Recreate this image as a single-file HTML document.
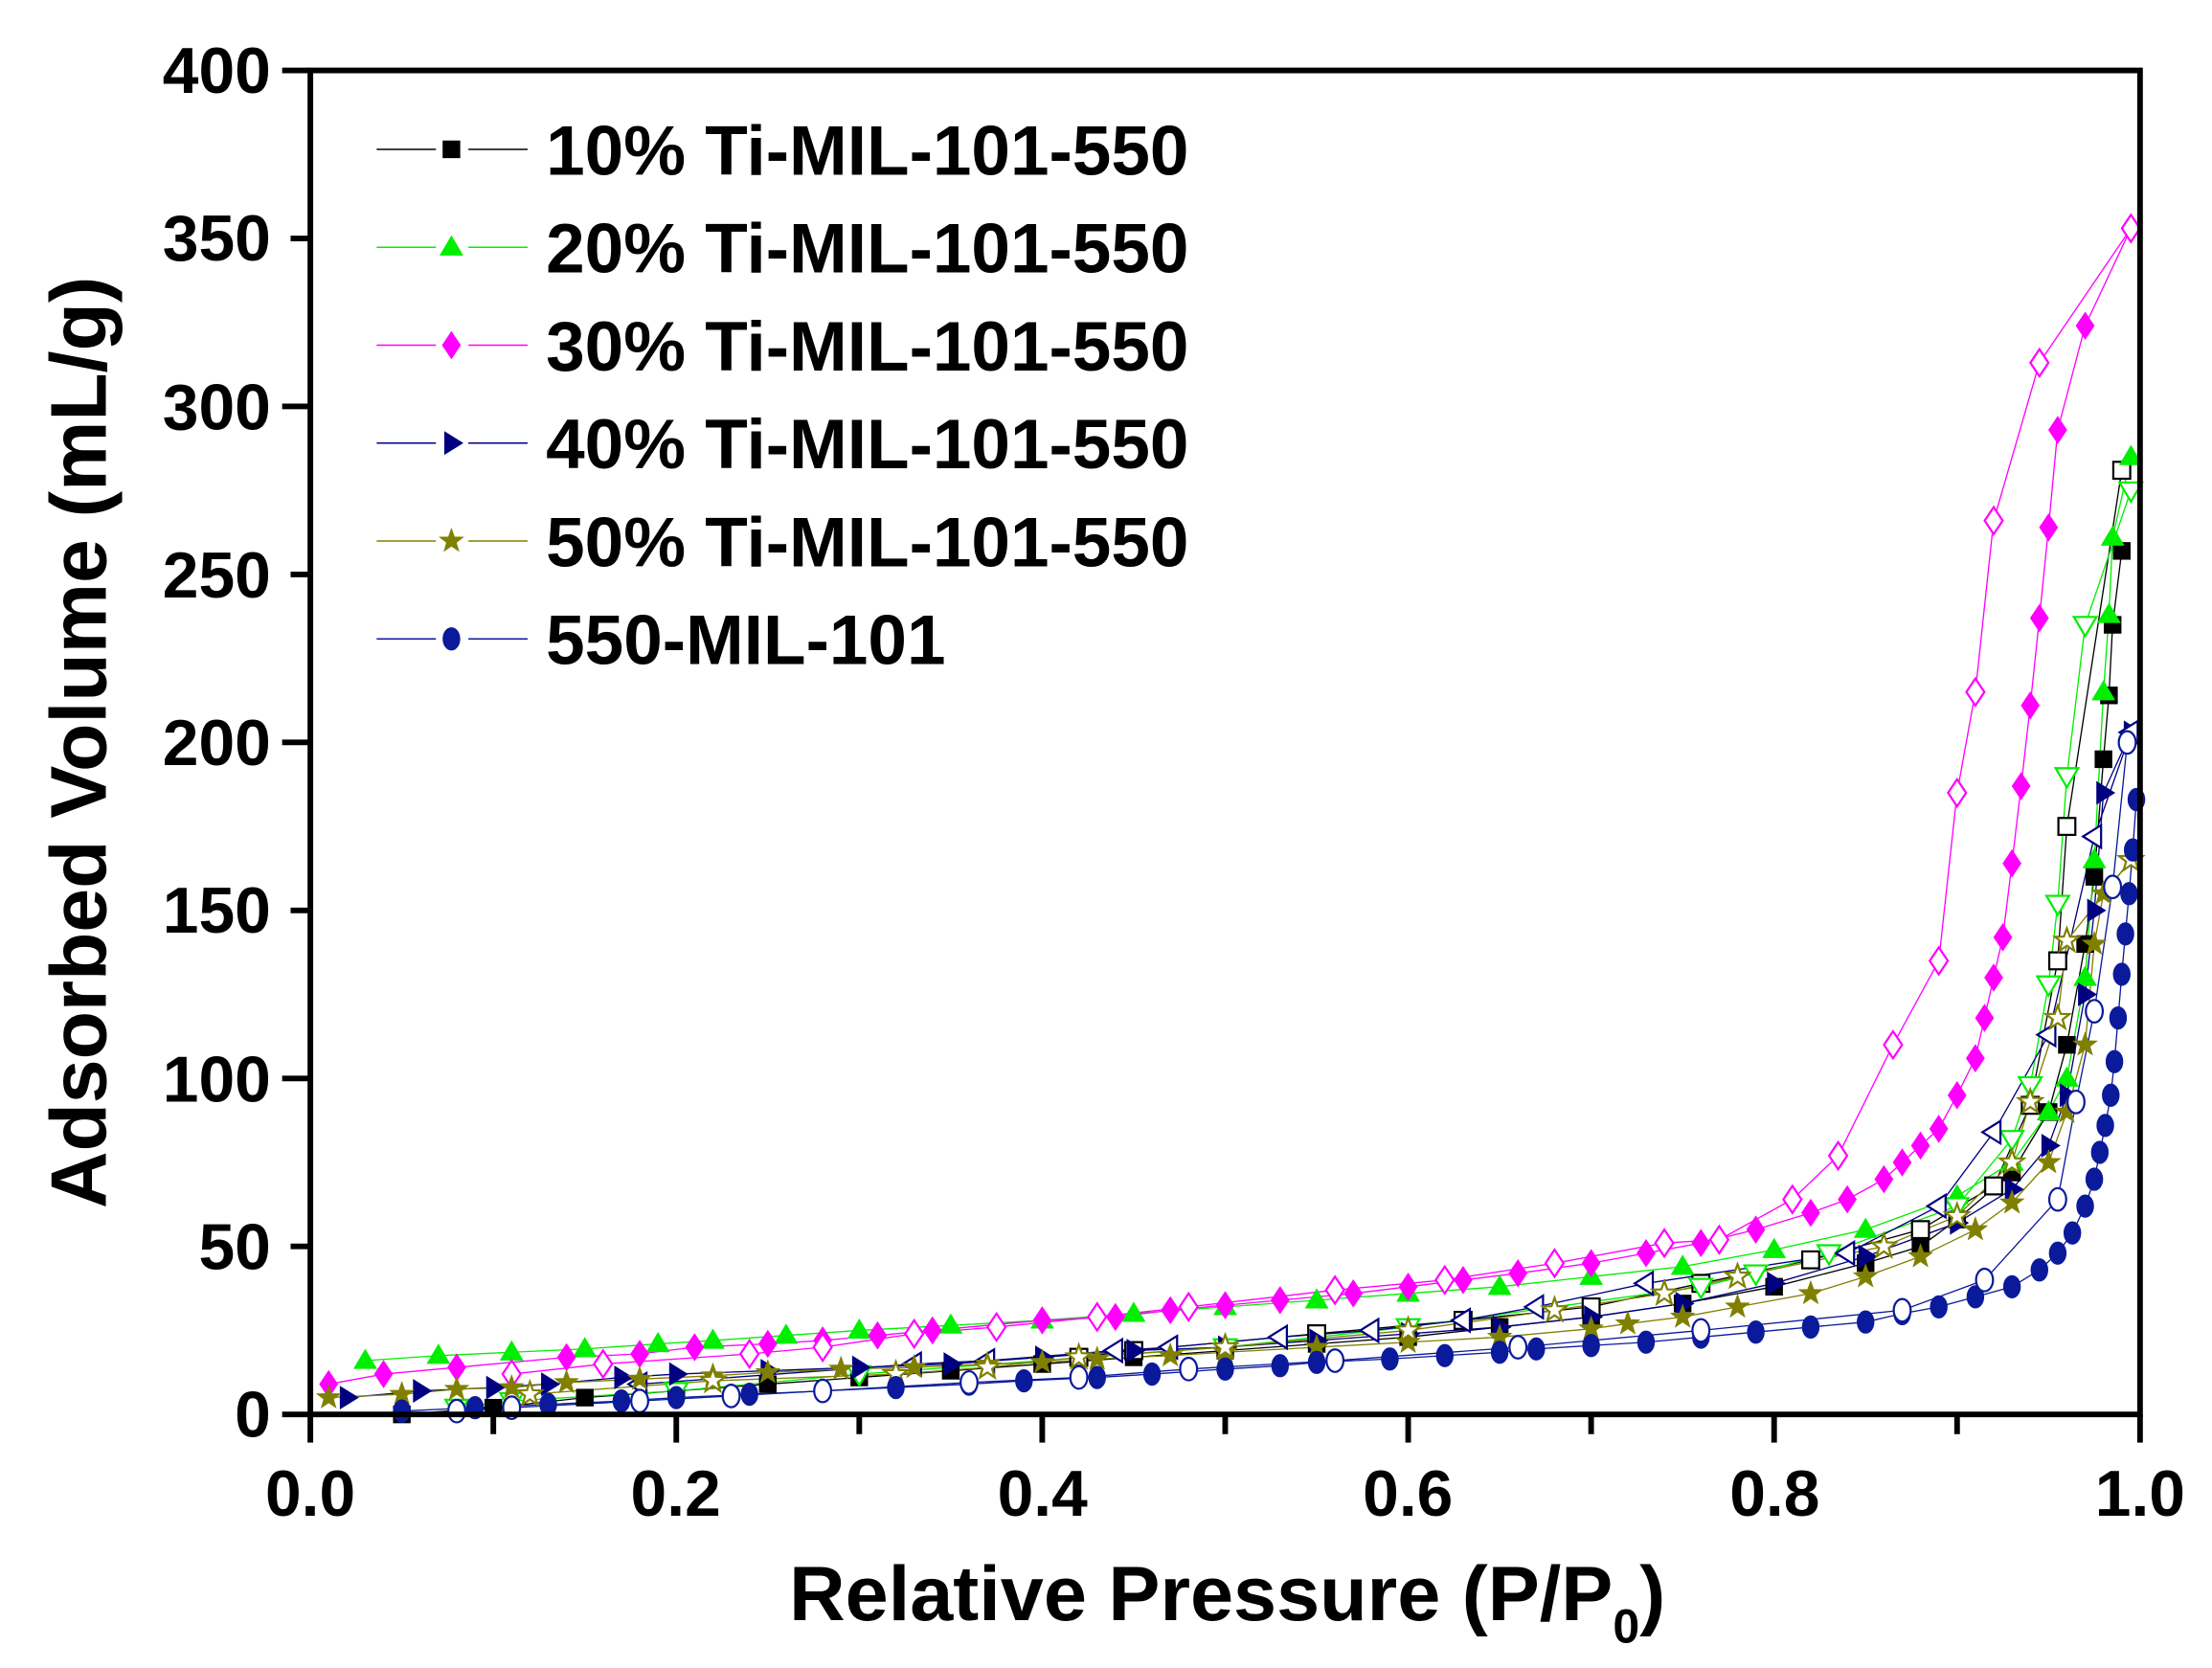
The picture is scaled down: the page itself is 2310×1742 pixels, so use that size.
<!DOCTYPE html>
<html><head><meta charset="utf-8"><style>
html,body{margin:0;padding:0;background:#fff}
svg{display:block}
text{font-family:"Liberation Sans",Arial,sans-serif;font-weight:bold;fill:#000}
</style></head><body>
<svg id="s" width="2310" height="1742" viewBox="0 0 1568 1184" preserveAspectRatio="none" xmlns="http://www.w3.org/2000/svg">
<g id="data"></g>
<g stroke="#000" fill="none">
<rect x="220" y="50" width="1297" height="954" stroke-width="4"/>
</g>
<g id="ticks" stroke="#000" stroke-width="4"></g>
<g font-size="46" text-anchor="end">
<text x="192" y="1020">0</text><text x="192" y="901">50</text><text x="192" y="782">100</text>
<text x="192" y="662">150</text><text x="192" y="543">200</text><text x="192" y="424">250</text>
<text x="192" y="305">300</text><text x="192" y="185">350</text><text x="192" y="66">400</text>
</g>
<g font-size="46" text-anchor="middle">
<text x="220" y="1076">0.0</text><text x="479" y="1076">0.2</text><text x="739" y="1076">0.4</text>
<text x="998" y="1076">0.6</text><text x="1258" y="1076">0.8</text><text x="1517" y="1076">1.0</text>
</g>
<text x="870" y="1150" font-size="55" text-anchor="middle">Relative Pressure (P/P<tspan font-size="34" dy="16">0</tspan><tspan dy="-16">)</tspan></text>
<text transform="translate(75,527) rotate(-90)" font-size="56" text-anchor="middle">Adsorbed Volume (mL/g)</text>
<g id="legend" font-size="49.5"></g>
</svg>
<script>
var NS="http://www.w3.org/2000/svg";
function X(p){return 220+p*1297}function Y(v){return 1004-v*2.385}
function el(t,a,par){var e=document.createElementNS(NS,t);for(var k in a)e.setAttribute(k,a[k]);par.appendChild(e);return e}
var tk=document.getElementById('ticks');
for(var i=0;i<=8;i++){var y=1004-i*119.25;el('line',{x1:(i%2?206:200),x2:220,y1:y,y2:y},tk)}
for(var i=0;i<=10;i++){var x=220+i*129.7;el('line',{x1:x,x2:x,y1:1004,y2:(i%2?1018:1024)},tk)}
function P(s){return s.trim().split(/\s*,\s*/).map(function(t){var a=t.split(':');return [+a[0],+a[1]]})}
var S=[
{c:'#000',m:'sq',a:P("0.05:0,0.1:2,0.15:5,0.2:7,0.25:9,0.3:11,0.35:13,0.4:15,0.45:17,0.5:19,0.55:21,0.6:23,0.65:26,0.7:29,0.75:33,0.8:38,0.85:45,0.88:50,0.9:58,0.93:72,0.95:90,0.96:110,0.97:140,0.975:160,0.98:195,0.983:214,0.985:235,0.99:257"),
 d:P("0.99:281,0.96:175,0.955:135,0.94:92,0.92:68,0.88:55,0.82:46,0.76:39,0.7:32,0.63:28,0.55:24,0.45:19,0.42:17")},
{c:'#00ee00',m:'tri',a:P("0.03:16,0.07:17.5,0.11:18.5,0.15:19.5,0.19:21,0.22:22,0.26:23.5,0.3:25,0.35:26.5,0.4:28,0.45:30,0.5:32,0.55:34,0.6:36,0.65:38,0.7:41,0.75:44,0.8:49,0.85:55,0.9:65,0.93:75,0.95:90,0.96:100,0.97:130,0.975:165,0.98:215,0.983:238,0.985:261,0.995:285"),
 d:P("0.995:275,0.97:235,0.96:190,0.955:152,0.95:128,0.94:98,0.93:82,0.9:62,0.83:48,0.79:42,0.76:38,0.6:26,0.5:20,0.3:12,0.2:7,0.11:4,0.08:2")},
{c:'#ff00ff',m:'dia',a:P("0.01:9,0.04:12,0.08:14,0.14:17,0.18:18,0.21:20,0.25:21,0.28:22,0.31:23.5,0.34:25,0.4:28,0.44:29,0.47:31,0.5:32.5,0.53:34,0.57:36,0.6:38,0.63:40,0.66:42,0.7:45,0.73:48,0.76:51,0.79:55,0.82:60,0.84:64,0.86:70,0.87:75,0.88:80,0.89:85,0.9:95,0.91:106,0.915:118,0.92:130,0.925:142,0.93:164,0.935:187,0.94:211,0.945:237,0.95:264,0.955:293,0.97:324,0.995:353"),
 d:P("0.995:353,0.945:313,0.92:266,0.91:215,0.9:185,0.89:135,0.865:110,0.835:77,0.81:64,0.77:52,0.74:51,0.68:45,0.62:40,0.56:37,0.48:32,0.43:29,0.375:26,0.33:24,0.28:20,0.24:18,0.16:15,0.11:12")},
{c:'#000080',m:'rt',a:P("0.02:5,0.06:7,0.1:8,0.13:9,0.17:11,0.2:12,0.25:13,0.3:14,0.35:15,0.4:17,0.45:19,0.5:20,0.55:22,0.6:24,0.65:26,0.7:29,0.75:33,0.8:39,0.85:47,0.9:57,0.93:67,0.95:80,0.96:95,0.97:125,0.975:150,0.98:185,0.995:203"),
 d:P("0.995:203,0.975:172,0.95:113,0.92:84,0.89:62,0.84:48,0.73:39,0.67:32,0.63:28,0.58:25,0.53:23,0.47:20,0.44:19,0.37:16,0.33:15,0.18:9")},
{c:'#808000',m:'star',a:P("0.01:5,0.05:6,0.08:7.5,0.11:8,0.14:9.5,0.18:10.5,0.22:11.5,0.25:12.5,0.29:13.5,0.33:14,0.37:15,0.4:15.5,0.43:16.5,0.47:17.5,0.5:18.5,0.55:20,0.6:21.5,0.65:23,0.7:25.5,0.72:27,0.75:29,0.78:32,0.82:36,0.85:41,0.88:47,0.91:55,0.93:63,0.95:75,0.96:90,0.97:110,0.975:140,0.98:155,0.995:165"),
 d:P("0.995:165,0.96:141,0.955:118,0.94:93,0.93:75,0.9:59,0.86:50,0.78:41,0.74:36,0.68:31,0.6:25,0.5:20,0.42:17,0.37:14,0.32:12,0.22:10,0.12:6")},
{c:'#0a1a9a',m:'cir',a:P("0.05:1,0.09:2,0.13:3,0.17:4,0.2:5,0.24:6,0.28:7,0.32:8,0.36:9,0.39:10,0.43:11,0.46:12,0.5:13.5,0.53:14.5,0.55:15.5,0.59:16.5,0.62:17.5,0.65:18.5,0.67:19.5,0.7:20.5,0.73:21.5,0.76:23,0.79:24.5,0.82:26,0.85:27.5,0.87:30,0.89:32,0.91:35,0.93:38,0.945:43,0.955:48,0.963:54,0.97:62,0.975:70,0.978:78,0.981:86,0.984:95,0.986:105,0.988:118,0.99:131,0.992:143,0.994:155,0.996:168,0.998:183"),
 d:P("0.993:200,0.985:157,0.975:120,0.965:93,0.955:64,0.915:40,0.87:31,0.76:25,0.66:20,0.56:16,0.48:13.5,0.42:11,0.36:9.5,0.28:7,0.23:5.5,0.18:4,0.11:2,0.08:1")}
];
function mark(g,m,x,y,c,open){
 var a={fill:open?'#fff':c,stroke:c,'stroke-width':open?1.5:0.5}, r=8;
 if(m=='sq'){a.x=x-6;a.y=y-6;a.width=12;a.height=12;el('rect',a,g)}
 else if(m=='cir'){a.cx=x;a.cy=y;a.rx=6;a.ry=8;el('ellipse',a,g)}
 else{var pts;
  if(m=='tri')pts=[[x,y-r],[x+r,y+r*0.7],[x-r,y+r*0.7]];
  if(open&&m=='tri')pts=[[x,y+r],[x+r,y-r*0.7],[x-r,y-r*0.7]];
  if(m=='dia')pts=[[x,y-r*1.2],[x+r*0.8,y],[x,y+r*1.2],[x-r*0.8,y]];
  if(m=='rt')pts=[[x+r,y],[x-r*0.6,y-r],[x-r*0.6,y+r]];
  if(open&&m=='rt')pts=[[x-r,y],[x+r*0.6,y-r],[x+r*0.6,y+r]];
  if(m=='star'){pts=[];for(var k=0;k<10;k++){var rr=k%2?r*0.45:r*1.1,an=-Math.PI/2+k*Math.PI/5;pts.push([x+rr*Math.cos(an),y+rr*Math.sin(an)])}}
  a.points=pts.map(function(p){return p.join(',')}).join(' ');el('polygon',a,g)}
}
var g=document.getElementById('data');
S.forEach(function(s){
 [s.a,s.d].forEach(function(arr){el('polyline',{points:arr.map(function(p){return X(p[0])+','+Y(p[1])}).join(' '),fill:'none',stroke:s.c,'stroke-width':0.9},g)});
});
S.forEach(function(s){
 s.a.forEach(function(p){mark(g,s.m,X(p[0]),Y(p[1]),s.c,false)});
 s.d.forEach(function(p){mark(g,s.m,X(p[0]),Y(p[1]),s.c,true)});
});
var lg=document.getElementById('legend');
var names=['10% Ti-MIL-101-550','20% Ti-MIL-101-550','30% Ti-MIL-101-550','40% Ti-MIL-101-550','50% Ti-MIL-101-550','550-MIL-101'];
S.forEach(function(s,i){var y=106+i*69.5;
 el('line',{x1:267,x2:309,y1:y,y2:y,stroke:s.c,'stroke-width':1},lg);
 el('line',{x1:332,x2:374,y1:y,y2:y,stroke:s.c,'stroke-width':1},lg);
 mark(lg,s.m,320,y,s.c,false);
 var t=el('text',{x:387,y:y+18},lg);t.textContent=names[i];
});
</script>
</body></html>
